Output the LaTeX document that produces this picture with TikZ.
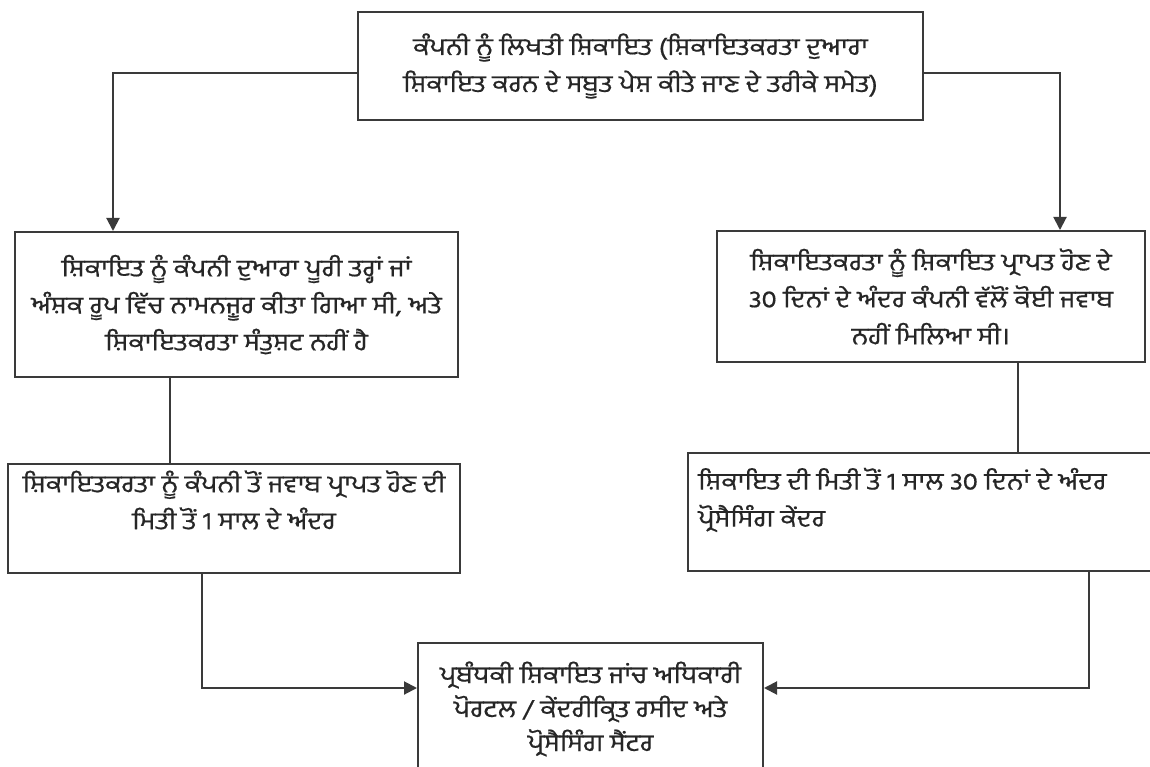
\documentclass[tikz,border=0pt]{standalone}
\usepackage{fontspec}
\newfontfamily\gur[Script=Gurmukhi,FakeStretch=1.14,FakeBold=0.6]{Hind Jalandhar}
\usetikzlibrary{arrows.meta}
\definecolor{ln}{HTML}{3A3A3A}
\definecolor{tx}{HTML}{262626}
\begin{document}
\begin{tikzpicture}[x=1pt,y=-1pt,
  box/.style={draw=ln,line width=2pt,inner sep=0pt},
  txt/.style={text=tx,font=\gur\fontsize{24}{37}\selectfont,align=center,inner sep=0pt},
  conn/.style={draw=ln,line width=2pt},
  arr/.style={conn,-{Triangle[length=13pt,width=13pt]}}]
\useasboundingbox (0,0) rectangle (1150,767);
\clip (0,0) rectangle (1150,767);
% boxes
\node[box,txt,minimum width=565pt,minimum height=108pt] (top) at (640.5,66)
  {ਕੰਪਨੀ ਨੂੰ ਲਿਖਤੀ ਸ਼ਿਕਾਇਤ (ਸ਼ਿਕਾਇਤਕਰਤਾ ਦੁਆਰਾ\\ਸ਼ਿਕਾਇਤ ਕਰਨ ਦੇ ਸਬੂਤ ਪੇਸ਼ ਕੀਤੇ ਜਾਣ ਦੇ ਤਰੀਕੇ ਸਮੇਤ)};
\node[box,txt,minimum width=443pt,minimum height=145pt] (L2) at (236.5,304.5)
  {ਸ਼ਿਕਾਇਤ ਨੂੰ ਕੰਪਨੀ ਦੁਆਰਾ ਪੂਰੀ ਤਰ੍ਹਾਂ ਜਾਂ\\ਅੰਸ਼ਕ ਰੂਪ ਵਿੱਚ ਨਾਮਨਜ਼ੂਰ ਕੀਤਾ ਗਿਆ ਸੀ, ਅਤੇ\\ਸ਼ਿਕਾਇਤਕਰਤਾ ਸੰਤੁਸ਼ਟ ਨਹੀਂ ਹੈ};
\node[box,txt,minimum width=428pt,minimum height=131pt] (R2) at (931,296.5)
  {ਸ਼ਿਕਾਇਤਕਰਤਾ ਨੂੰ ਸ਼ਿਕਾਇਤ ਪ੍ਰਾਪਤ ਹੋਣ ਦੇ\\30 ਦਿਨਾਂ ਦੇ ਅੰਦਰ ਕੰਪਨੀ ਵੱਲੋਂ ਕੋਈ ਜਵਾਬ\\ਨਹੀਂ ਮਿਲਿਆ ਸੀ।};
\node[box,minimum width=452pt,minimum height=109pt] (L3) at (234,518.5) {};
\node[txt] (L3t) at (234,500)
  {ਸ਼ਿਕਾਇਤਕਰਤਾ ਨੂੰ ਕੰਪਨੀ ਤੋਂ ਜਵਾਬ ਪ੍ਰਾਪਤ ਹੋਣ ਦੀ\\ਮਿਤੀ ਤੋਂ 1 ਸਾਲ ਦੇ ਅੰਦਰ};
\node[box,minimum width=472pt,minimum height=118pt] (R3) at (924,512) {};
\node[txt,align=left,anchor=west] (R3t) at (698,500)
  {ਸ਼ਿਕਾਇਤ ਦੀ ਮਿਤੀ ਤੋਂ 1 ਸਾਲ 30 ਦਿਨਾਂ ਦੇ ਅੰਦਰ\\ਪ੍ਰੋਸੈਸਿੰਗ ਕੇਂਦਰ};
\node[box,minimum width=345pt,minimum height=177pt] (B) at (590.5,731.5) {};
\node[txt,font=\gur\fontsize{24}{34}\selectfont] (Bt) at (590.5,709)
  {ਪ੍ਰਬੰਧਕੀ ਸ਼ਿਕਾਇਤ ਜਾਂਚ ਅਧਿਕਾਰੀ\\ਪੋਰਟਲ / ਕੇਂਦਰੀਕ੍ਰਿਤ ਰਸੀਦ ਅਤੇ\\ਪ੍ਰੋਸੈਸਿੰਗ ਸੈਂਟਰ};
% helper coordinates
\coordinate (lx) at (113,0);
\coordinate (rx) at (1060,0);
\coordinate (ax) at (170,0);
\coordinate (bx) at (1018,0);
\coordinate (cx) at (202,0);
\coordinate (dx) at (1089,0);
\coordinate (ay) at (0,688);
% connectors
\draw[arr] ([yshift=-7pt]top.west) -| (L2.north -| lx);
\draw[arr] ([yshift=-7pt]top.east) -| (R2.north -| rx);
\draw[conn] (L2.south -| ax) -- (L3.north -| ax);
\draw[conn] (R2.south -| bx) -- (R3.north -| bx);
\draw[arr] (L3.south -| cx) |- (B.west |- ay);
\draw[arr] (R3.south -| dx) |- (B.east |- ay);
\end{tikzpicture}
\end{document}
